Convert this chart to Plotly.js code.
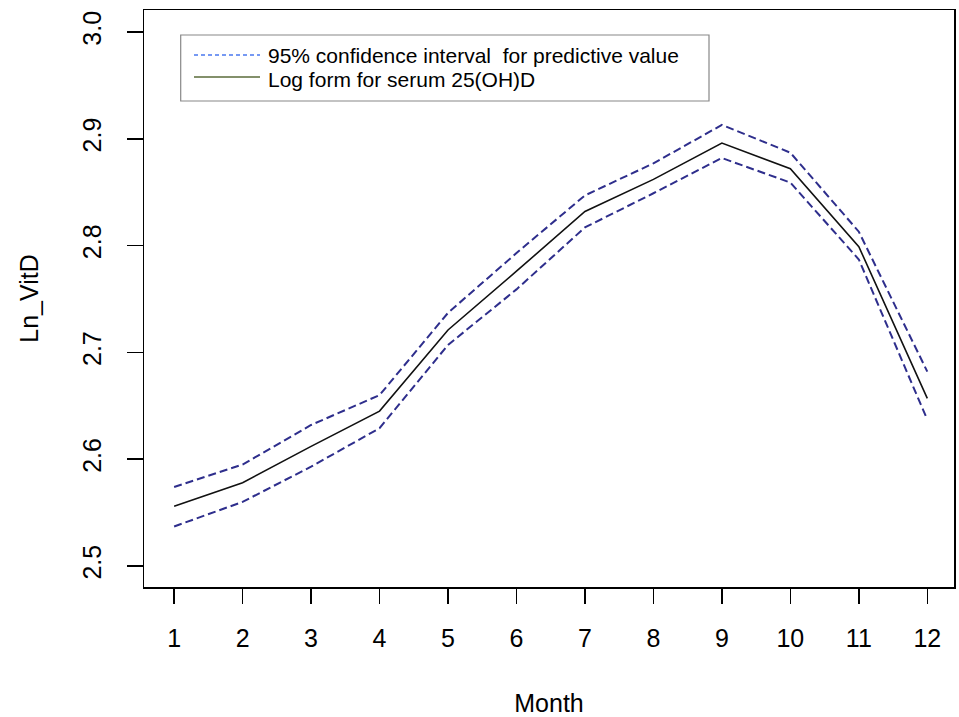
<!DOCTYPE html>
<html>
<head>
<meta charset="utf-8">
<script src="https://cdn.plot.ly/plotly-3.0.1.min.js"></script>
<style>html,body{margin:0;padding:0;background:#fff}#chart{width:959px;height:717px}</style>
</head>
<body>
<div id="chart"></div>
<script>
var months = [1,2,3,4,5,6,7,8,9,10,11,12];
var fitValues = [2.556, 2.578, 2.612, 2.645, 2.721, 2.776, 2.832, 2.862, 2.896, 2.872, 2.799, 2.657];
var upperCI   = [2.574, 2.595, 2.632, 2.660, 2.737, 2.793, 2.847, 2.877, 2.913, 2.887, 2.813, 2.682];
var lowerCI   = [2.537, 2.560, 2.593, 2.629, 2.707, 2.759, 2.817, 2.849, 2.882, 2.859, 2.787, 2.637];
var yTicks = [2.5, 2.6, 2.7, 2.8, 2.9, 3.0];
var yTickLabels = ["2.5", "2.6", "2.7", "2.8", "2.9", "3.0"];
var legendLabels = ["95% confidence interval  for predictive value", "Log form for serum 25(OH)D"];

var FONT = "Liberation Sans, Arial, sans-serif";
var ciStyle = {color: "#2e2e8c", width: 2, dash: "8px,4px"};

var traces = [
  {x: months, y: upperCI, mode: "lines", line: ciStyle, showlegend: false, hoverinfo: "skip"},
  {x: months, y: lowerCI, mode: "lines", line: ciStyle, showlegend: false, hoverinfo: "skip"},
  {x: months, y: fitValues, mode: "lines", line: {color: "#111111", width: 1.6}, showlegend: false}
];

// plot area in pixels: left 144, right 954, top 10, bottom 587
function px(x){ return (x - 144) / 810; }
function py(y){ return (587 - y) / 577; }

var layout = {
  width: 959, height: 717,
  margin: {l: 144, r: 5, t: 10, b: 130},
  paper_bgcolor: "#ffffff", plot_bgcolor: "#ffffff",
  font: {family: FONT, color: "#000000", size: 25},
  showlegend: false,
  xaxis: {
    range: [0.56, 12.39],
    tickvals: months,
    ticktext: months.map(String),
    ticks: "outside", ticklen: 15, tickwidth: 1.5, tickcolor: "#000",
    showline: true, mirror: true, linecolor: "#000", linewidth: 1.5,
    showgrid: false, zeroline: false,
    tickfont: {family: FONT, size: 25},
    ticklabelstandoff: 13,
    title: {text: "Month", font: {family: FONT, size: 25}, standoff: 44}
  },
  yaxis: {
    range: [2.4803, 3.0206],
    tickvals: yTicks,
    ticktext: yTickLabels,
    tickangle: -90,
    ticks: "outside", ticklen: 16, tickwidth: 1.5, tickcolor: "#000",
    showline: true, mirror: true, linecolor: "#000", linewidth: 1.5,
    showgrid: false, zeroline: false,
    tickfont: {family: FONT, size: 25},
    ticklabelstandoff: 16,
    title: {text: "Ln_VitD", font: {family: FONT, size: 25}, standoff: 32}
  },
  shapes: [
    {type: "rect", xref: "paper", yref: "paper", x0: px(180.7), x1: px(709), y0: py(101), y1: py(35),
     line: {color: "#888888", width: 1.2}, fillcolor: "#ffffff", layer: "above"},
    {type: "line", xref: "paper", yref: "paper", x0: px(194), x1: px(260), y0: py(55), y1: py(55),
     line: {color: "#4a78f0", width: 1.5, dash: "4px,3px"}},
    {type: "line", xref: "paper", yref: "paper", x0: px(194), x1: px(260), y0: py(77), y1: py(77),
     line: {color: "#5a6b3a", width: 1.5}}
  ],
  annotations: [
    {xref: "paper", yref: "paper", x: px(266), y: py(56), xanchor: "left", yanchor: "middle",
     text: legendLabels[0], showarrow: false, font: {family: FONT, size: 21, color: "#000"}},
    {xref: "paper", yref: "paper", x: px(266), y: py(80), xanchor: "left", yanchor: "middle",
     text: legendLabels[1], showarrow: false, font: {family: FONT, size: 21, color: "#000"}}
  ]
};

Plotly.newPlot("chart", traces, layout, {displayModeBar: false, staticPlot: true});
</script>
</body>
</html>
